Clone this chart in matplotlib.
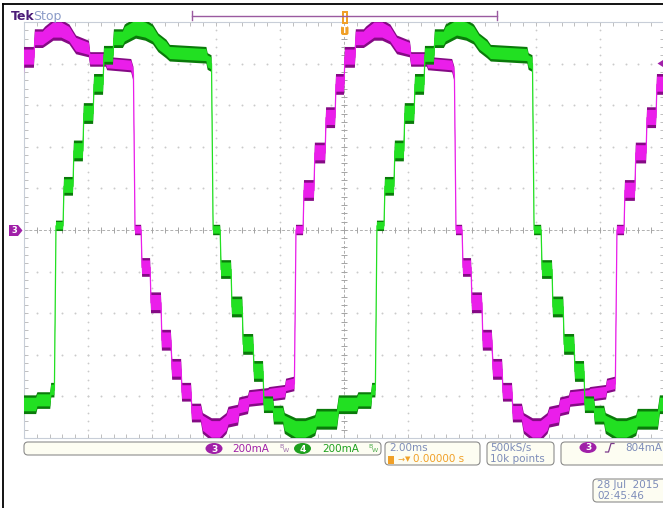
import numpy as np
import matplotlib
matplotlib.use("Agg")
import matplotlib.pyplot as plt
from matplotlib.patches import FancyBboxPatch, Ellipse, Polygon, Rectangle

# ---------------- data (read from the screen) ----------------
# time in ms, current in A; one period of each trace, measured from its rising edge
period_ms = 10.03
mag_t0 = -1.50     # rising zero crossing of CH3
grn_t0 = -9.00     # rising zero crossing of CH4

mag_t = [0.00, 0.22, 0.25, 0.56, 0.59, 0.91, 0.94, 1.22, 1.25, 1.50, 1.53, 1.84, 1.87, 2.12,
         2.19, 2.45, 2.70, 2.95, 3.16, 3.56, 3.60, 4.09, 4.13, 4.88, 4.95,
         5.00, 5.19, 5.22, 5.47, 5.50, 5.81, 5.84, 6.12, 6.16, 6.44, 6.47, 6.75, 6.78, 7.06,
         7.12, 7.40, 7.65, 7.86, 7.92, 8.22, 8.26, 8.53, 8.57, 9.16, 9.20, 9.69, 9.72, 9.98]
mag_v = [0.00, 0.00, 0.19, 0.19, 0.37, 0.37, 0.54, 0.54, 0.70, 0.70, 0.83, 0.83, 0.92, 0.92,
         0.93, 0.96, 0.96, 0.94, 0.89, 0.87, 0.82, 0.82, 0.80, 0.79, 0.75,
         0.00, 0.00, -0.18, -0.18, -0.35, -0.35, -0.53, -0.53, -0.67, -0.67, -0.78, -0.78, -0.88, -0.88,
         -0.93, -0.96, -0.96, -0.93, -0.90, -0.89, -0.85, -0.84, -0.81, -0.80, -0.79, -0.78, -0.75, -0.74]
mag_noise = [0.025, 0.025, 0.05, 0.05, 0.05, 0.05, 0.05, 0.05, 0.05, 0.05, 0.05, 0.05, 0.045, 0.045,
             0.048, 0.05, 0.05, 0.048, 0.045, 0.04, 0.035, 0.035, 0.032, 0.032, 0.035,
             0.025, 0.025, 0.045, 0.045, 0.05, 0.05, 0.05, 0.05, 0.05, 0.05, 0.045, 0.045, 0.045, 0.045,
             0.05, 0.055, 0.055, 0.05, 0.05, 0.05, 0.045, 0.045, 0.04, 0.04, 0.035, 0.035, 0.035, 0.035]

grn_t = [0.00, 0.22, 0.25, 0.53, 0.56, 0.84, 0.87, 1.16, 1.19, 1.47, 1.50, 1.78, 1.81, 2.09,
         2.15, 2.50, 2.80, 3.03, 3.20, 3.45, 3.56, 4.70, 4.74, 4.86,
         4.91, 5.13, 5.16, 5.47, 5.50, 5.82, 5.85, 6.16, 6.19, 6.47, 6.50, 6.78, 6.81, 7.10,
         7.15, 7.50, 7.80, 8.10, 8.15, 8.78, 8.84, 9.41, 9.45, 9.85, 9.88, 9.98]
grn_v = [0.02, 0.02, 0.21, 0.21, 0.38, 0.38, 0.56, 0.56, 0.70, 0.70, 0.84, 0.84, 0.92, 0.92,
         0.94, 0.97, 0.96, 0.94, 0.90, 0.87, 0.85, 0.84, 0.81, 0.80,
         0.00, 0.00, -0.19, -0.19, -0.37, -0.37, -0.55, -0.55, -0.68, -0.68, -0.84, -0.84, -0.89, -0.89,
         -0.93, -0.96, -0.96, -0.94, -0.91, -0.91, -0.84, -0.84, -0.82, -0.82, -0.77, -0.77]
grn_noise = [0.025, 0.025, 0.045, 0.045, 0.05, 0.05, 0.05, 0.05, 0.05, 0.05, 0.045, 0.045, 0.045, 0.045,
             0.048, 0.05, 0.05, 0.048, 0.045, 0.045, 0.04, 0.04, 0.04, 0.04,
             0.025, 0.025, 0.045, 0.045, 0.05, 0.05, 0.05, 0.05, 0.05, 0.05, 0.04, 0.04, 0.045, 0.045,
             0.05, 0.055, 0.055, 0.05, 0.05, 0.05, 0.045, 0.045, 0.04, 0.04, 0.035, 0.035]

ch3_label, ch4_label = "200mA", "200mA"
timebase = "2.00ms"
trig_pos = "0.00000 s"
rate_lines = ["500kS/s", "10k points"]
trig_level = "804mA"
date_lines = ["28 Jul  2015", "02:45:46"]

# ---------------- figure ----------------
W, H = 663, 508
fig = plt.figure(figsize=(W / 100, H / 100), dpi=100)
fig.patch.set_facecolor("white")

ax = fig.add_axes([24 / W, (H - 438) / H, 640 / W, 416 / H])
ax.set_xlim(-10, 10)
ax.set_ylim(-1, 1)
ax.set_facecolor("white")

# graticule
minor_x = np.arange(-10, 10.001, 0.4)
minor_y = np.arange(-1, 1.001, 0.04)
gcol = "#cacaca"
for xv in [-8, -6, -4, -2, 2, 4, 6, 8]:
    ax.plot(np.full(minor_y.size, xv), minor_y, ls="none", marker="o", ms=1.3,
            mec="none", color=gcol, zorder=1)
for yv in [-0.8, -0.6, -0.4, -0.2, 0.2, 0.4, 0.6, 0.8]:
    ax.plot(minor_x, np.full(minor_x.size, yv), ls="none", marker="o", ms=1.4,
            mec="none", color=gcol, zorder=1)
ax.axhline(0, color="#b0b0b0", lw=0.7, ls=(0, (3, 2)), zorder=1)
ax.axvline(0, color="#b0b0b0", lw=0.7, ls=(0, (3, 2)), zorder=1)
ax.plot(minor_x, np.zeros(minor_x.size), ls="none", marker="|", ms=4, mew=0.7,
        color="#a4a4a4", zorder=1)
ax.plot(np.zeros(minor_y.size), minor_y, ls="none", marker="_", ms=5, mew=0.7,
        color="#a4a4a4", zorder=1)
ax.set_xticks(minor_x)
ax.set_yticks(minor_y)
ax.tick_params(direction="in", length=3, width=0.6, color="#b4b4b4",
               top=True, right=True, labelbottom=False, labelleft=False)
for s in ax.spines.values():
    s.set_color("#c8ced8")
    s.set_linewidth(0.8)


def draw_trace(tp, vp, np_, t0, bright, dark):
    tp, vp, np_ = np.array(tp), np.array(vp), np.array(np_)
    t = np.concatenate([t0 + k * period_ms + tp for k in range(-2, 3)])
    v = np.tile(vp, 5)
    n = np.tile(np_, 5)
    ax.fill_between(t, v - n, v + n, color=dark, lw=0, zorder=3)
    ax.fill_between(t, v - 0.7 * n, v + 0.75 * n, color=bright, lw=0, zorder=3)
    ax.plot(t, v, color=bright, lw=0.9, zorder=3)


draw_trace(mag_t, mag_v, mag_noise, mag_t0, "#ea1eea", "#850a85")
draw_trace(grn_t, grn_v, grn_noise, grn_t0, "#22e022", "#0a7a0a")

# ---------------- overlay (pixel coordinates) ----------------
ov = fig.add_axes([0, 0, 1, 1])
ov.set_xlim(0, W)
ov.set_ylim(H, 0)
ov.axis("off")
ov.patch.set_alpha(0)

ov.plot([3, 663], [4, 4], color="black", lw=1.3)
ov.plot([3, 3], [4, 508], color="black", lw=1.3)

ov.text(11, 16.5, "Tek", fontsize=9, fontweight="bold", color="#4b1c78", va="center")
ov.text(33, 16.5, "Stop", fontsize=9, color="#8c9cc8", va="center")

bar = "#9a5aa0"
ov.plot([192, 497], [15.5, 15.5], color=bar, lw=1)
ov.plot([192, 192], [11, 20], color=bar, lw=1)
ov.plot([497, 497], [11, 20], color=bar, lw=1)

orange = "#f0a028"
ov.add_patch(Rectangle((342, 11), 5.5, 13, fc=orange, ec="none"))
ov.add_patch(Rectangle((343.8, 13), 1.8, 9, fc="white", ec="none"))
ov.add_patch(FancyBboxPatch((341, 26), 7.5, 9, boxstyle="round,pad=0,rounding_size=2",
                            fc=orange, ec="none"))
ov.text(344.8, 30.8, "T", fontsize=5.5, fontweight="bold", color="white",
        ha="center", va="center")

purple = "#a020a8"
ov.add_patch(Polygon([(9, 225), (18, 225), (22.5, 230.5), (18, 236), (9, 236)],
                     closed=True, fc=purple, ec="none"))
ov.text(14.5, 230.8, "3", fontsize=6, fontweight="bold", color="white", ha="center", va="center")
ov.add_patch(Polygon([(657.5, 63.5), (663, 60), (663, 67)], closed=True, fc=purple, ec="none"))

# status boxes
def box(x, y, w, h):
    ov.add_patch(FancyBboxPatch((x, y), w, h, boxstyle="round,pad=0,rounding_size=4",
                                fc="#fdfdf2", ec="#8c8c8c", lw=0.8))

box(24, 442, 357, 13)
box(385, 442, 95, 23)
box(487, 442, 67, 23)
box(561, 442, 110, 23)
box(593, 479, 80, 23)

green = "#1ea01e"
ov.add_patch(Ellipse((214, 448.5), 17, 11, fc=purple, ec="none"))
ov.text(214, 449, "3", fontsize=6.5, fontweight="bold", color="white", ha="center", va="center")
ov.text(232, 449, ch3_label, fontsize=7.5, color=purple, va="center")
ov.text(279.5, 446, "B", fontsize=4.5, color="#9a6aa8", va="center")
ov.text(283, 451, "W", fontsize=4.5, color="#9a6aa8", va="center")
ov.add_patch(Ellipse((302.5, 448.5), 17, 11, fc=green, ec="none"))
ov.text(302.5, 449, "4", fontsize=6.5, fontweight="bold", color="white", ha="center", va="center")
ov.text(322, 449, ch4_label, fontsize=7.5, color=green, va="center")
ov.text(368.5, 446, "B", fontsize=4.5, color="#4aa84a", va="center")
ov.text(372, 451, "W", fontsize=4.5, color="#4aa84a", va="center")

blue = "#7d8cb9"
ov.text(389, 448, timebase, fontsize=7.5, color=blue, va="center")
ov.add_patch(Rectangle((387.5, 455.5), 6, 8, fc=orange, ec="none"))
ov.text(398, 459.5, "→", fontsize=6, color=orange, va="center")
ov.text(405, 459.5, "▼", fontsize=5, color=orange, va="center")
ov.text(413, 459.5, trig_pos, fontsize=7.5, color=orange, va="center")

ov.text(490, 448, rate_lines[0], fontsize=7.5, color=blue, va="center")
ov.text(490, 459.5, rate_lines[1], fontsize=7.5, color=blue, va="center")

ov.add_patch(Ellipse((588, 447.5), 17, 11, fc=purple, ec="none"))
ov.text(588, 448, "3", fontsize=6.5, fontweight="bold", color="white", ha="center", va="center")
ov.plot([605.5, 608.5, 611, 614], [452, 452, 443.5, 443.5], color="#7a3a8a", lw=0.9)
ov.text(625, 448, trig_level, fontsize=7.5, color=blue, va="center")

ov.text(597, 484.5, date_lines[0], fontsize=7.5, color=blue, va="center")
ov.text(597, 496, date_lines[1], fontsize=7.5, color=blue, va="center")

fig.savefig("out.png", dpi=100, facecolor="white")
